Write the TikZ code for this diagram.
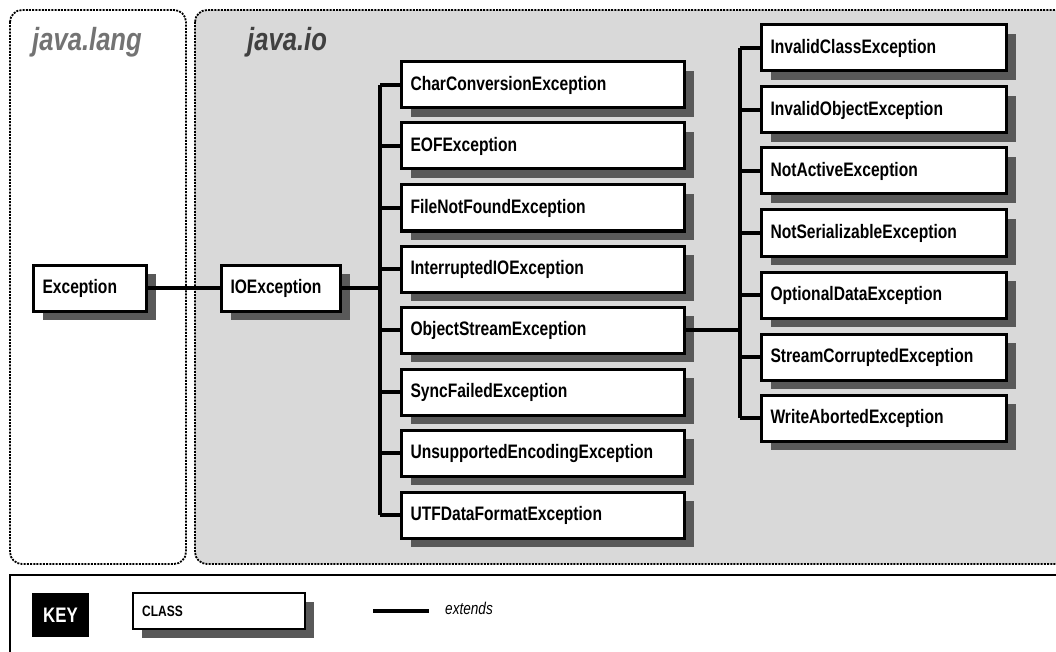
\documentclass[tikz,border=0pt]{standalone}
\usepackage{fontspec}
\setmainfont{Liberation Sans}
\newfontfamily\boxfont{Liberation Sans}[FakeStretch=0.8]
\usetikzlibrary{shadows}
\begin{document}
\begin{tikzpicture}[x=1pt,y=-1pt,
  cls/.style={draw, line width=3pt, fill=white, anchor=west, minimum height=46pt,
    inner xsep=9pt, align=left, font=\boxfont\bfseries\fontsize{19.5}{21}\selectfont,
    drop shadow={shadow xshift=9pt, shadow yshift=-9pt, fill=black!65, opacity=1}},
  pkg/.style={line width=1.8pt, dash pattern=on 2pt off 1.2pt, rounded corners=12pt},
  pkgname/.style={anchor=base west, inner sep=0pt,
    font=\boxfont\bfseries\itshape\fontsize{32}{34}\selectfont},
  ext/.style={line width=3.2pt}]
  \useasboundingbox (0,0) rectangle (1056,652);
  \clip (0,0) rectangle (1056,652);
  \fill[white] (0,0) rectangle (1056,652);
  % packages
  \draw[pkg] (10,10) rectangle (186,564);
  \draw[pkg, fill=black!15] (195,10) rectangle (1080,564);
  \node[pkgname, text=black!55] (lang) at (32,51) {java.lang};
  \node[pkgname, text=black!75] (jio) at (247,51) {java.io};
  % classes
  \node[cls, text width=95pt] (exc) at (32,288) {Exception};
  \node[cls, text width=101pt] (ioe) at (220,288) {IOException};
  \node[cls, text width=265pt] (cce) at (400,85) {CharConversionException};
  \node[cls, text width=265pt] (eof) at (400,146) {EOFException};
  \node[cls, text width=265pt] (fnf) at (400,208) {FileNotFoundException};
  \node[cls, text width=265pt] (iio) at (400,269) {InterruptedIOException};
  \node[cls, text width=265pt] (ose) at (400,330) {ObjectStreamException};
  \node[cls, text width=265pt] (sfe) at (400,392) {SyncFailedException};
  \node[cls, text width=265pt] (uee) at (400,453) {UnsupportedEncodingException};
  \node[cls, text width=265pt] (utf) at (400,515) {UTFDataFormatException};
  \node[cls, text width=227pt] (ice) at (760,48) {InvalidClassException};
  \node[cls, text width=227pt] (ioe2) at (760,110) {InvalidObjectException};
  \node[cls, text width=227pt] (nae) at (760,171) {NotActiveException};
  \node[cls, text width=227pt] (nse) at (760,233) {NotSerializableException};
  \node[cls, text width=227pt] (ode) at (760,295) {OptionalDataException};
  \node[cls, text width=227pt] (sce) at (760,357) {StreamCorruptedException};
  \node[cls, text width=227pt] (wae) at (760,418) {WriteAbortedException};
  % extends
  \coordinate (busL) at (380,0);
  \coordinate (busR) at (740,0);
  \draw[ext] (exc.east) -- (ioe.west);
  \draw[ext] (ioe.east) -- (busL |- ioe.east);
  \draw[ext] (busL |- cce.west) -- (busL |- utf.west);
  \draw[ext] (busL |- cce.west) -- (cce.west) (busL |- eof.west) -- (eof.west)
    (busL |- fnf.west) -- (fnf.west) (busL |- iio.west) -- (iio.west)
    (busL |- ose.west) -- (ose.west) (busL |- sfe.west) -- (sfe.west)
    (busL |- uee.west) -- (uee.west) (busL |- utf.west) -- (utf.west);
  \draw[ext] (ose.east) -- (busR |- ose.east);
  \draw[ext] (busR |- ice.west) -- (busR |- wae.west);
  \draw[ext] (busR |- ice.west) -- (ice.west) (busR |- ioe2.west) -- (ioe2.west)
    (busR |- nae.west) -- (nae.west) (busR |- nse.west) -- (nse.west)
    (busR |- ode.west) -- (ode.west) (busR |- sce.west) -- (sce.west)
    (busR |- wae.west) -- (wae.west);
  % key
  \draw[line width=2.2pt] (10,575) rectangle (1080,680);
  \node[fill=black, text=white, minimum width=57pt, minimum height=44pt,
    font=\boxfont\bfseries\fontsize{21}{23}\selectfont] (key) at (60.5,615) {KEY};
  \node[cls, line width=2.4pt, minimum height=36pt, text width=154pt,
    font=\boxfont\bfseries\fontsize{15}{17}\selectfont] (class) at (132,611) {CLASS};
  \coordinate (lgA) at (373,611);
  \coordinate (lgB) at (429,611);
  \draw[ext] (lgA) -- (lgB);
  \node[anchor=west, inner sep=0pt, font=\boxfont\itshape\fontsize{17}{19}\selectfont]
    (lgtxt) at (445,608) {extends};
\end{tikzpicture}
\end{document}
